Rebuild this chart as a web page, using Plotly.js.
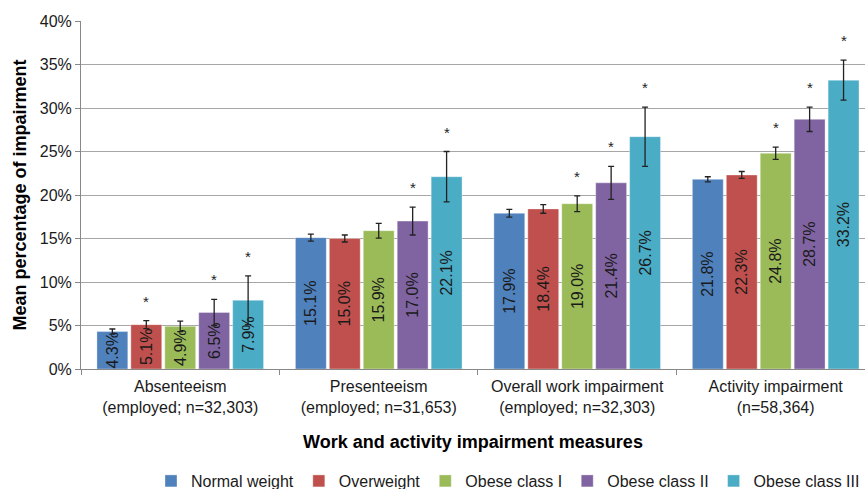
<!DOCTYPE html>
<html>
<head>
<meta charset="utf-8">
<script src="https://cdn.plot.ly/plotly-3.0.1.min.js"></script>
<style>html,body{margin:0;padding:0;background:#fff;overflow:hidden;}#chart{width:865px;height:498px;}</style>
</head>
<body>
<div id="chart"></div>
<script>
const categories = [
  "Absenteeism<br>(employed; n=32,303)",
  "Presenteeism<br>(employed; n=31,653)",
  "Overall work impairment<br>(employed; n=32,303)",
  "Activity impairment<br>(n=58,364)"
];
const seriesNames = ["Normal weight", "Overweight", "Obese class I", "Obese class II", "Obese class III"];
const colors = ["#4F81BD", "#C0504D", "#9BBB59", "#8064A2", "#4BACC6"];

const normalWeight = [4.3, 15.1, 17.9, 21.8];
const overweight   = [5.1, 15.0, 18.4, 22.3];
const obeseI       = [4.9, 15.9, 19.0, 24.8];
const obeseII      = [6.5, 17.0, 21.4, 28.7];
const obeseIII     = [7.9, 22.1, 26.7, 33.2];

const errNormal    = [0.3, 0.4, 0.45, 0.3];
const errOver      = [0.45, 0.4, 0.5, 0.4];
const errObeseI    = [0.6, 0.85, 0.9, 0.7];
const errObeseII   = [1.5, 1.6, 1.9, 1.4];
const errObeseIII  = [2.8, 2.9, 3.4, 2.3];

// significance markers (1 = asterisk)
const sigNormal    = [0, 0, 0, 0];
const sigOver      = [1, 0, 0, 0];
const sigObeseI    = [0, 0, 1, 1];
const sigObeseII   = [1, 1, 1, 1];
const sigObeseIII  = [1, 1, 1, 1];

const values = [normalWeight, overweight, obeseI, obeseII, obeseIII];
const errors = [errNormal, errOver, errObeseI, errObeseII, errObeseIII];
const sigs = [sigNormal, sigOver, sigObeseI, sigObeseII, sigObeseIII];

const bargap = 0.145, bargroupgap = 0.09;
const font = "Arial, 'Liberation Sans', sans-serif";

const traces = values.map((v, i) => ({
  type: "bar",
  name: seriesNames[i],
  x: categories,
  y: v,
  text: v.map(d => d.toFixed(1) + "%"),
  textposition: "inside",
  insidetextanchor: "middle",
  textangle: -90,
  constraintext: "none",
  cliponaxis: true,
  insidetextfont: {family: font, size: 16, color: "#1a1a1a"},
  marker: {color: colors[i], line: {color: "rgba(255,255,255,0.35)", width: 1}},
  error_y: {type: "data", array: errors[i], visible: true, color: "#222", thickness: 1.3, width: 3},
  hoverinfo: "skip"
}));

const slot = (1 - bargap) / values.length;
const annotations = [];
values.forEach((v, i) => {
  v.forEach((d, j) => {
    if (sigs[i][j]) {
      annotations.push({
        xref: "x", yref: "y",
        x: j - (1 - bargap) / 2 + slot * (i + 0.5),
        y: d + errors[i][j],
        text: "*", showarrow: false,
        yanchor: "bottom", yshift: 9,
        font: {family: font, size: 15, color: "#222"}
      });
    }
  });
});

const layout = {
  width: 865, height: 498,
  margin: {l: 81, r: 0, t: 21, b: 129},
  paper_bgcolor: "#fff", plot_bgcolor: "#fff",
  barmode: "group", bargap: bargap, bargroupgap: bargroupgap,
  font: {family: font, size: 16, color: "#1a1a1a"},
  xaxis: {
    type: "category",
    range: [-0.5, 3.45],
    showline: true, linecolor: "#888", linewidth: 1,
    ticks: "outside", tickson: "boundaries", ticklen: 5, tickcolor: "#888",
    ticklabelstandoff: 3,
    tickfont: {family: font, size: 16, color: "#1a1a1a"},
    title: {text: "<b>Work and activity impairment measures</b>", font: {family: font, size: 18, color: "#000"}, standoff: 20},
    showgrid: false, zeroline: false
  },
  yaxis: {
    range: [0, 40], dtick: 5, ticksuffix: "%",
    showline: true, linecolor: "#888", linewidth: 1,
    ticks: "outside", ticklen: 5, tickcolor: "#888",
    showgrid: true, gridcolor: "#a6a6a6", gridwidth: 1,
    zeroline: false,
    tickfont: {family: font, size: 16, color: "#1a1a1a"},
    title: {text: "<b>Mean percentage of impairment</b>", font: {family: font, size: 18, color: "#000"}, standoff: 8}
  },
  legend: {
    orientation: "h", xref: "container", yref: "container",
    x: 1, xanchor: "right", y: 0, yanchor: "bottom",
    font: {family: font, size: 16, color: "#1a1a1a"},
    traceorder: "normal", itemwidth: 30
  },
  annotations: annotations,
  showlegend: true
};

Plotly.newPlot("chart", traces, layout, {displayModeBar: false, staticPlot: true});
</script>
</body>
</html>
